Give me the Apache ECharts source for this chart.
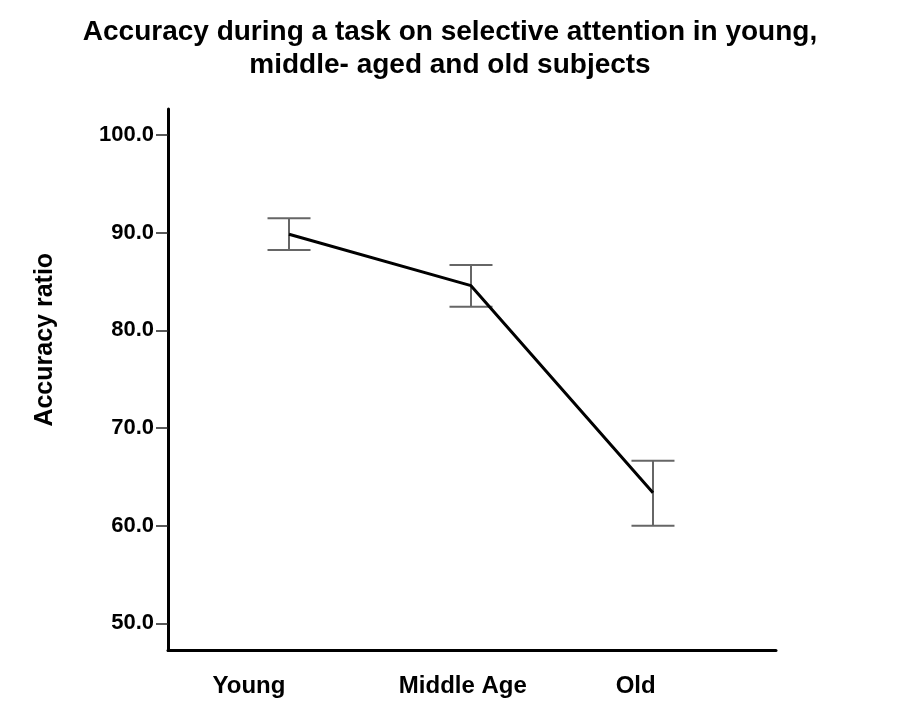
<!DOCTYPE html>
<html>
<head>
<meta charset="utf-8">
<script src="https://cdn.jsdelivr.net/npm/echarts@6/dist/echarts.min.js"></script>
<style>html,body{margin:0;padding:0;background:#fff}#c{width:900px;height:714px}</style>
</head>
<body>
<div id="c"></div>
<script>
const categories = ['Young', 'Middle Age', 'Old'];
const means = [89.83, 84.57, 63.37];
const lower = [88.22, 82.42, 59.99];
const upper = [91.47, 86.69, 66.65];
const yTicks = [50, 60, 70, 80, 90, 100];
const titleText = 'Accuracy during a task on selective attention in young,\nmiddle- aged and old subjects';
const yName = 'Accuracy ratio';

const font = '"Liberation Sans", Arial, sans-serif';
// label placement shift (in axis units) to mimic the reference's label layout
const labelShift = [-0.22, -0.045, -0.095];
const chart = echarts.init(document.getElementById('c'));
const lineData = means.map((v, i) => [i, v]);
const errData = means.map((v, i) => [i, lower[i], upper[i]]);

chart.setOption({
  animation: false,
  backgroundColor: '#fff',
  title: {
    text: titleText,
    left: 'center',
    top: 11,
    textStyle: { fontFamily: font, fontSize: 28, fontWeight: 'bold', color: '#000', lineHeight: 33 }
  },
  grid: { left: 168, right: 124, top: 109, bottom: 63.5 },
  xAxis: {
    type: 'value',
    min: -0.665,
    max: 2.676,
    splitLine: { show: false },
    axisLine: { show: true, onZero: false, lineStyle: { color: '#000', width: 3 } },
    axisTick: { show: false },
    axisLabel: {
      customValues: categories.map((c, i) => i + labelShift[i]),
      formatter: v => categories[Math.round(v)] || '',
      fontFamily: font, fontSize: 24, fontWeight: 'bold', color: '#000', margin: 24
    }
  },
  yAxis: {
    type: 'value',
    min: 47.21,
    max: 102.66,
    name: yName,
    nameLocation: 'middle',
    nameGap: 110,
    nameTextStyle: { fontFamily: font, fontSize: 25, fontWeight: 'bold', color: '#000', padding: [0, 0, 0, 80] },
    splitLine: { show: false },
    axisLine: { show: true, onZero: false, lineStyle: { color: '#000', width: 3 } },
    axisTick: { show: true, customValues: yTicks, length: 12, lineStyle: { color: '#222', width: 1.5 } },
    axisLabel: {
      customValues: yTicks,
      formatter: v => v.toFixed(1),
      fontFamily: font, fontSize: 22, fontWeight: 'bold', color: '#000', margin: 14
    }
  },
  series: [
    {
      type: 'line',
      data: lineData,
      symbol: 'none',
      lineStyle: { color: '#000', width: 3 },
      z: 3
    },
    {
      type: 'custom',
      data: errData,
      z: 2,
      renderItem: function (params, api) {
        const x = api.value(0);
        const lo = api.coord([x, api.value(1)]);
        const hi = api.coord([x, api.value(2)]);
        const hw = 21.5;
        const style = { stroke: '#666', lineWidth: 2 };
        return {
          type: 'group',
          children: [
            { type: 'line', shape: { x1: lo[0], y1: lo[1], x2: hi[0], y2: hi[1] }, style: style },
            { type: 'line', shape: { x1: lo[0] - hw, y1: lo[1], x2: lo[0] + hw, y2: lo[1] }, style: style },
            { type: 'line', shape: { x1: hi[0] - hw, y1: hi[1], x2: hi[0] + hw, y2: hi[1] }, style: style }
          ]
        };
      }
    }
  ]
});
</script>
</body>
</html>
